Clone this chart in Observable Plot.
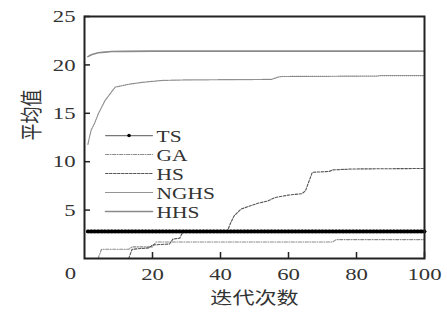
<!DOCTYPE html>
<html>
<head>
<meta charset="utf-8">
<script src="https://cdn.jsdelivr.net/npm/d3@7"></script>
<script src="https://cdn.jsdelivr.net/npm/@observablehq/plot@0.6"></script>
<style>
  html, body { margin: 0; padding: 0; background: #fff; }
  #chart { width: 447px; height: 320px; overflow: hidden; }
</style>
</head>
<body>
<div id="chart"></div>
<script>
// ---- data ----
const seriesNames = ["TS", "GA", "HS", "NGHS", "HHS"];

const tsIter = d3.range(1, 101);      // iteration numbers 1..100
const tsValue = 2.8;                   // TS stays constant

const gaX = [4, 5, 13, 14, 20, 21, 73, 74, 100];
const gaY = [0, 0.95, 0.95, 1.2, 1.2, 1.7, 1.7, 1.95, 1.95];

const hsX = [13, 14, 19, 20, 25, 26, 28, 28.5, 29, 42, 43, 44, 46, 48, 51, 54, 56, 60, 64, 65, 67, 72, 73, 79, 100];
const hsY = [0, 0.95, 1.1, 1.4, 1.5, 2.0, 2.1, 2.45, 2.8, 2.8, 3.7, 4.4, 5.1, 5.35, 5.7, 5.95, 6.3, 6.55, 6.7, 7.0, 8.9, 9.0, 9.15, 9.25, 9.3];

const nghsX = [1, 1.5, 2, 3, 4, 6, 9, 13, 17, 23, 30, 55, 57, 58, 86, 87, 100];
const nghsY = [11.8, 12.6, 13.3, 14.0, 14.9, 16.3, 17.7, 18.0, 18.2, 18.4, 18.45, 18.5, 18.75, 18.8, 18.85, 18.9, 18.9];

const hhsX = [1, 2, 3, 4, 6, 8, 12, 20, 100];
const hhsY = [20.85, 21.05, 21.15, 21.25, 21.32, 21.38, 21.4, 21.42, 21.42];

const xTicks = [20, 40, 60, 80, 100];
const yTicks = [5, 10, 15, 20, 25];
const xLabel = "迭代次数";
const yLabel = "平均值";

// ---- build tables ----
const zip = (xs, ys) => xs.map((x, i) => ({x, y: ys[i]}));
const ts = tsIter.map(x => ({x, y: tsValue}));
const ga = zip(gaX, gaY);
const hs = zip(hsX, hsY);
const nghs = zip(nghsX, nghsY);
const hhs = zip(hhsX, hhsY);

// styles per series
const styles = {
  TS:   {stroke: "#000", strokeWidth: 3.5},
  GA:   {stroke: "#8a8a8a", strokeWidth: 1.1, strokeDasharray: "3,1.5,1,1.5"},
  HS:   {stroke: "#555", strokeWidth: 1.1, strokeDasharray: "2.5,1.5"},
  NGHS: {stroke: "#888", strokeWidth: 1.2, strokeDasharray: "0.9,1.1"},
  HHS:  {stroke: "#8a8a8a", strokeWidth: 1.6}
};

// legend layout (in data units of the plot)
const legX1 = 6.2, legX2 = 20, legTextX = 21.2;
const legTop = 12.7, legStep = 1.96;
const legRows = seriesNames.map((name, i) => ({name, y: legTop - i * legStep}));

const legendMarks = [];
legRows.forEach(r => {
  const st = r.name === "TS" ? {stroke: "#777", strokeWidth: 1.2} : styles[r.name];
  legendMarks.push(Plot.line([{x: legX1, y: r.y}, {x: legX2, y: r.y}], {x: "x", y: "y", ...st}));
});
legendMarks.push(Plot.dot([{x: (legX1 + legX2) / 2, y: legRows[0].y}], {x: "x", y: "y", r: 1.8, fill: "#000"}));
legendMarks.push(Plot.text(legRows, {x: () => legTextX, y: "y", text: "name", textAnchor: "start", fontSize: 16.5, fill: "#333", dy: 1}));

// inward tick lengths (6px) expressed in data units
const tickLenY = 25 * 6 / (320 - 16 - 62);
const tickLenX = 100 * 6 / (447 - 84 - 23);

const plot = Plot.plot({
  width: 447,
  height: 320,
  marginTop: 16,
  marginBottom: 62,
  marginLeft: 84,
  marginRight: 23,
  x: {domain: [0, 100]},
  y: {domain: [0, 25]},
  style: {fontFamily: "'Liberation Serif', 'Noto Sans CJK SC', serif", fontSize: "17.5px", color: "#333", background: "#fff"},
  marks: [
    Plot.line(hhs, {x: "x", y: "y", ...styles.HHS}),
    Plot.line(nghs, {x: "x", y: "y", ...styles.NGHS}),
    Plot.line(ga, {x: "x", y: "y", ...styles.GA}),
    Plot.line(hs, {x: "x", y: "y", ...styles.HS}),
    Plot.line(ts, {x: "x", y: "y", ...styles.TS}),
    Plot.dot(ts, {x: "x", y: "y", r: 1.9, fill: "#000"}),
    ...legendMarks,
    Plot.frame({stroke: "#222", strokeWidth: 2}),
    Plot.ruleX(xTicks, {x: d => d, y1: 0, y2: tickLenY, stroke: "#222", strokeWidth: 1.5}),
    Plot.ruleY(yTicks, {y: d => d, x1: 0, x2: tickLenX, stroke: "#222", strokeWidth: 1.5}),
    Plot.axisX({ticks: xTicks, tickSize: 0, tickPadding: 9, label: null}),
    Plot.axisY({ticks: yTicks, tickSize: 0, tickPadding: 9, label: null}),
    Plot.text([0], {x: 0, y: 0, text: d => String(d), dx: -14, dy: 15, fill: "#333"}),
    Plot.text([xLabel], {frameAnchor: "bottom", dy: 45, fontSize: 17, fill: "#333", fontFamily: "'Noto Sans CJK SC', sans-serif"}),
    Plot.text([yLabel], {frameAnchor: "left", dx: -53, dy: 3, rotate: -90, fontSize: 17, fill: "#333", fontFamily: "'Noto Sans CJK SC', sans-serif"})
  ]
});

// the reference's lettering is stretched horizontally; stretch texts about their anchors
const S = 1.3;
plot.querySelectorAll("text").forEach(t => {
  const tr = t.getAttribute("transform") || "";
  if (/rotate\(-?90\)/.test(tr)) {
    t.setAttribute("transform", tr + ` scale(1,${S})`);
  } else {
    const xa = parseFloat(t.getAttribute("x") || "0") || 0;
    t.setAttribute("x", 0);
    t.setAttribute("transform", tr + ` translate(${xa},0) scale(${S},1)`);
  }
});

document.getElementById("chart").appendChild(plot);
</script>
</body>
</html>
